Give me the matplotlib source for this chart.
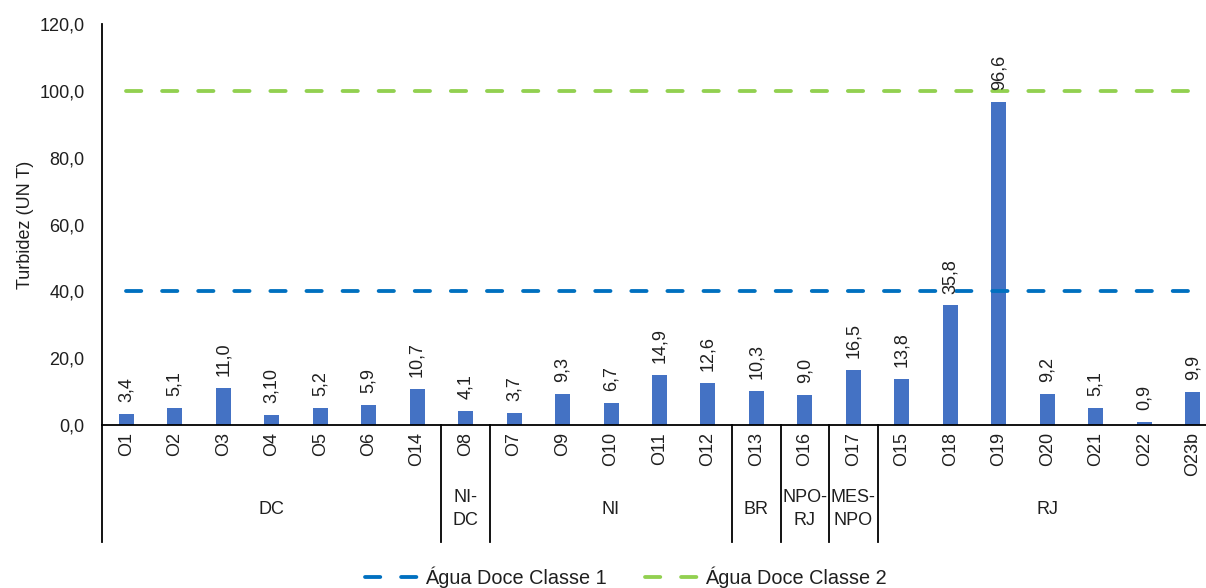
import matplotlib.pyplot as plt
from matplotlib.lines import Line2D
from matplotlib.ticker import FuncFormatter
import matplotlib.transforms as mtransforms

plt.rcParams['font.family'] = ['Liberation Sans', 'DejaVu Sans']
FS = 13
plt.rcParams['font.size'] = FS
TXT = '#1f1f1f'

# data
points = ["O1", "O2", "O3", "O4", "O5", "O6", "O14", "O8", "O7", "O9", "O10", "O11",
          "O12", "O13", "O16", "O17", "O15", "O18", "O19", "O20", "O21", "O22", "O23b"]
turbidez = [3.4, 5.1, 11.0, 3.1, 5.2, 5.9, 10.7, 4.1, 3.7, 9.3, 6.7, 14.9,
            12.6, 10.3, 9.0, 16.5, 13.8, 35.8, 96.6, 9.2, 5.1, 0.9, 9.9]
value_labels = ["3,4", "5,1", "11,0", "3,10", "5,2", "5,9", "10,7", "4,1", "3,7", "9,3",
                "6,7", "14,9", "12,6", "10,3", "9,0", "16,5", "13,8", "35,8", "96,6",
                "9,2", "5,1", "0,9", "9,9"]
groups = ["DC", "NI-\nDC", "NI", "BR", "NPO-\nRJ", "MES-\nNPO", "RJ"]
group_sizes = [7, 1, 5, 1, 1, 1, 7]
classe1 = 40.0
classe2 = 100.0

W, H = 1206, 588
fig = plt.figure(figsize=(W / 100, H / 100), dpi=100)
ax_left, ax_right, ax_bot, ax_top = 102, 1217, 425, 24
ax = fig.add_axes([ax_left / W, 1 - ax_bot / H, (ax_right - ax_left) / W, (ax_bot - ax_top) / H])

x = list(range(len(points)))
ax.bar(x, turbidez, width=0.31, color='#4472C4', zorder=2)

for xi, v, lab in zip(x, turbidez, value_labels):
    ax.annotate(lab, (xi, v), xytext=(0, 8.5), textcoords='offset points',
                rotation=90, ha='center', va='bottom', color=TXT, fontsize=FS, zorder=4)

l1, = ax.plot([x[0], x[-1]], [classe1, classe1], color='#0070C0', lw=2.75,
              dashes=(4, 5.45), dash_capstyle='round', zorder=3)
l2, = ax.plot([x[0], x[-1]], [classe2, classe2], color='#92D050', lw=2.75,
              dashes=(4, 5.45), dash_capstyle='round', zorder=3)

ax.set_xlim(-0.5, len(points) - 0.5)
ax.set_ylim(0, 120)
ax.set_yticks([0, 20, 40, 60, 80, 100, 120])
ax.yaxis.set_major_formatter(FuncFormatter(lambda v, p: f"{v:.1f}".replace('.', ',')))
ax.set_xticks(x)
ax.set_xticklabels(points, rotation=90, va='top', ha='center')
ax.tick_params(axis='both', length=0, colors=TXT, labelsize=FS)
ax.tick_params(axis='y', pad=12.5)
ax.tick_params(axis='x', pad=5)
for s in ['top', 'right']:
    ax.spines[s].set_visible(False)
ax.spines['left'].set_color('black')
ax.spines['bottom'].set_color('black')
ax.spines['left'].set_linewidth(1.3)
ax.spines['bottom'].set_linewidth(1.3)

ax.set_ylabel("Turbidez (UN T)", color=TXT, fontsize=FS)
ax.yaxis.set_label_coords(-0.061, 0.5)

# group axis below
trans = mtransforms.blended_transform_factory(ax.transData, ax.transAxes)
sep_bottom = -(542 - ax_bot) / (ax_bot - ax_top)
lab_y = -(509 - ax_bot) / (ax_bot - ax_top)
start = 0
bounds = [start]
for g, n in zip(groups, group_sizes):
    end = start + n
    ax.text((start + end - 1) / 2, lab_y, g, transform=trans, ha='center', va='center',
            multialignment='center', color=TXT, fontsize=FS, linespacing=1.5)
    bounds.append(end)
    start = end
for b in bounds[:-1]:
    ax.add_line(Line2D([b - 0.5, b - 0.5], [sep_bottom, 0], transform=trans,
                       color='black', lw=1.3, clip_on=False))

fig.legend([l1, l2], ["Água Doce Classe 1", "Água Doce Classe 2"], loc='center',
           bbox_to_anchor=(626 / W, 1 - 577 / H), ncol=2, frameon=False,
           handlelength=2.9, columnspacing=1.9, handletextpad=0.15, fontsize=14.3,
           labelcolor=TXT)

fig.savefig("out.png", dpi=100)
